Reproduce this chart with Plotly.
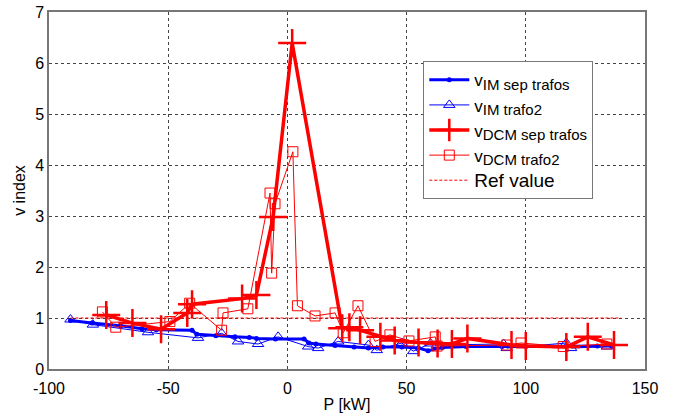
import plotly.graph_objects as go

# Power (kW) and v index for each configuration
p_im_sep = [-91, -82, -70, -61, -55, -40, -38, -30, -22, -16, -13, -5, 7, 9, 12, 20, 28, 34,
            40, 48, 55, 59, 65, 75, 90, 100, 117, 130, 136]
v_im_sep = [0.95, 0.90, 0.85, 0.79, 0.77, 0.76, 0.68, 0.65, 0.63, 0.62, 0.60, 0.59, 0.59, 0.51,
            0.49, 0.46, 0.43, 0.41, 0.43, 0.43, 0.41, 0.36, 0.42, 0.44, 0.44, 0.44, 0.45, 0.45, 0.45]

p_im_tr2 = [-91, -81.6, -58.5, -37.5, -27.6, -20.7, -12.3, -3.9, 8.7, 12.9, 21.3, 34, 37.5,
            48, 52.8, 60, 62.8, 90.7, 92, 117, 119, 134]
v_im_tr2 = [0.97, 0.87, 0.72, 0.61, 0.70, 0.54, 0.49, 0.63, 0.44, 0.41, 0.54, 0.47, 0.37,
            0.51, 0.35, 0.50, 0.47, 0.49, 0.41, 0.51, 0.41, 0.44]

p_dcm_sep = [-76, -65, -53, -42, -40, -19, -13, -6, 2, 23, 26, 30.5, 39, 45, 55, 63, 69,
             75.5, 94, 100, 117, 126, 137]
v_dcm_sep = [1.06, 0.90, 0.78, 1.10, 1.27, 1.38, 1.45, 2.98, 6.39, 0.80, 0.82, 0.76, 0.63,
             0.56, 0.52, 0.50, 0.49, 0.60, 0.47, 0.45, 0.43, 0.63, 0.47]

p_dcm_tr2 = [-77.6, -72, -49.3, -41, -27.6, -27, -16.6, -7.3, -6.6, -5.2, 2.3, 4.2, 11.6, 20,
             23.4, 29.6, 36.8, 43, 51, 62, 62.8, 92, 98, 115.7, 134]
v_dcm_tr2 = [1.12, 0.82, 0.93, 1.29, 0.76, 1.10, 1.18, 3.45, 1.88, 3.24, 4.26, 1.24, 1.04,
             1.10, 0.71, 1.24, 0.54, 0.67, 0.55, 0.63, 0.45, 0.47, 0.51, 0.44, 0.49]

p_ref = [-91, 140]
v_ref = [1, 1]

x_ticks = [-100, -50, 0, 50, 100, 150]
x_tick_text = ["-100", "-50", "0", "50", "100", "150"]
y_ticks = [0, 1, 2, 3, 4, 5, 6, 7]

BLUE = "#0000FF"
RED = "#FF0000"
FONT = "Liberation Sans, Arial, sans-serif"


def legend_name(sub):
    # large "v" with a readable subscript
    return f'v<sub><span style="font-size:15px">{sub}</span></sub>'


fig = go.Figure()

fig.add_trace(go.Scatter(
    x=p_im_sep, y=v_im_sep, mode="lines+markers",
    name=legend_name("IM sep trafos"),
    line=dict(color=BLUE, width=3),
    marker=dict(symbol="circle", size=5, color=BLUE),
))
fig.add_trace(go.Scatter(
    x=p_im_tr2, y=v_im_tr2, mode="lines+markers",
    name=legend_name("IM trafo2"),
    line=dict(color=BLUE, width=1),
    marker=dict(symbol="triangle-up-open", size=10, color=BLUE, line=dict(width=1)),
))
fig.add_trace(go.Scatter(
    x=p_dcm_sep, y=v_dcm_sep, mode="lines+markers",
    name=legend_name("DCM sep trafos"),
    line=dict(color=RED, width=3.5),
    marker=dict(symbol="cross-thin-open", size=20, color=RED, line=dict(width=2.5, color=RED)),
))
fig.add_trace(go.Scatter(
    x=p_dcm_tr2, y=v_dcm_tr2, mode="lines+markers",
    name=legend_name("DCM trafo2"),
    line=dict(color=RED, width=1),
    marker=dict(symbol="square-open", size=10, color=RED, line=dict(width=1)),
))
fig.add_trace(go.Scatter(
    x=p_ref, y=v_ref, mode="lines",
    name='<span style="font-size:19px">Ref value</span>',
    line=dict(color=RED, width=1, dash="3px,2px"),
))

axis_common = dict(
    showgrid=True, gridcolor="#444444", griddash="dot", gridwidth=1,
    zeroline=False, showline=True, linecolor="#777777", linewidth=1.5, mirror=True,
    ticks="", tickfont=dict(family=FONT, size=16, color="black"), automargin=False,
)

fig.update_xaxes(range=[-100, 150], tickvals=x_ticks, ticktext=x_tick_text,
                 ticklabelstandoff=4, **axis_common,
                 title=dict(text="P [kW]", font=dict(family=FONT, size=16, color="black"), standoff=3))
fig.update_yaxes(range=[0, 7], tickvals=y_ticks, **axis_common,
                 title=dict(text="v index", font=dict(family=FONT, size=16, color="black"), standoff=6))

fig.update_layout(
    width=680, height=414,
    margin=dict(l=49, r=35, t=12, b=45),
    paper_bgcolor="white", plot_bgcolor="white",
    showlegend=True,
    legend=dict(
        x=0.628, y=0.862, xanchor="left", yanchor="top",
        bgcolor="white", bordercolor="#777777", borderwidth=1,
        font=dict(family=FONT, size=17, color="black"),
        tracegroupgap=0, itemwidth=40,
    ),
)

fig.write_html("out.html")
